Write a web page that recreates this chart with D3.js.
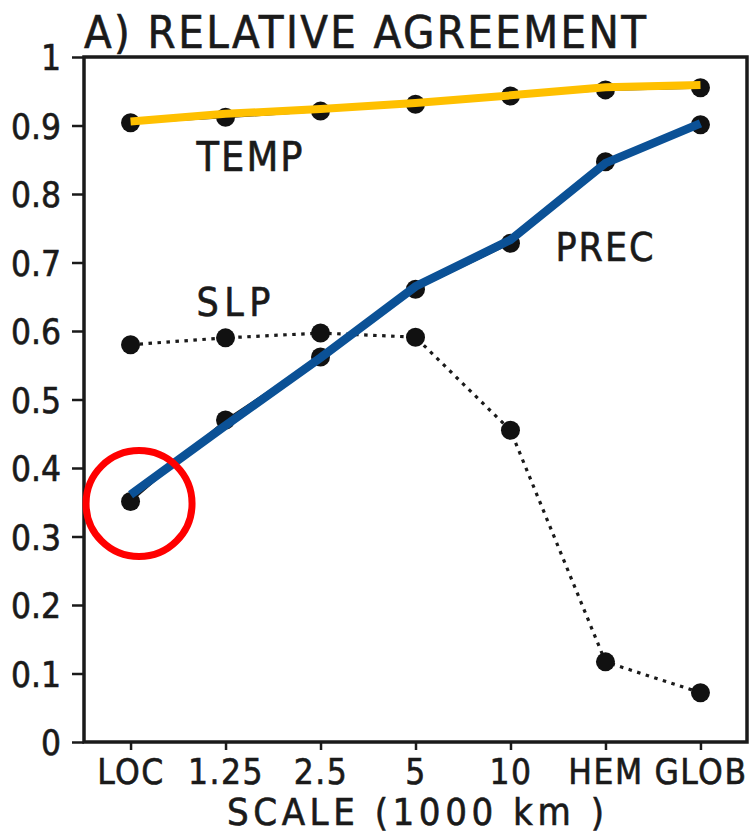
<!DOCTYPE html>
<html>
<head>
<meta charset="utf-8">
<script src="https://cdn.jsdelivr.net/npm/d3@7"></script>
<style>
  body { margin: 0; background: #fff; }
  svg { display: block; }
  text { font-family: "DejaVu Sans Condensed", "DejaVu Sans", sans-serif; font-stretch: condensed; fill: #1a1a1a; stroke: #1a1a1a; stroke-width: 0.6px; }
</style>
</head>
<body>
<div id="main"></div>
<script>
const scales = ["LOC", "1.25", "2.5", "5", "10", "HEM", "GLOB"];
const tempValues = [0.904, 0.912, 0.921, 0.931, 0.943, 0.952, 0.955];
const precValues = [0.351, 0.470, 0.562, 0.661, 0.728, 0.847, 0.901];
const slpValues = [0.580, 0.590, 0.597, 0.591, 0.455, 0.117, 0.072];
// hand drawn overlay lines
const tempOverlay = [0.906, 0.917, 0.924, 0.933, 0.944, 0.956, 0.959];
const precOverlay = [0.361, 0.462, 0.561, 0.665, 0.733, 0.845, 0.903];
const yTicks = [0, 0.1, 0.2, 0.3, 0.4, 0.5, 0.6, 0.7, 0.8, 0.9, 1];
const yTickLabels = ["0", "0.1", "0.2", "0.3", "0.4", "0.5", "0.6", "0.7", "0.8", "0.9", "1"];

const width = 752;
const height = 835;
const margin = {top: 57, right: 5, bottom: 93, left: 84};

const svg = d3.select("#main")
    .append("svg")
    .attr("width", width)
    .attr("height", height);

const x = d3.scalePoint()
    .domain(scales)
    .range([margin.left, width - margin.right])
    .padding(0.49);

const y = d3.scaleLinear()
    .domain([0, 1])
    .range([height - margin.bottom, margin.top]);

// axes
const yAxis = svg.append("g")
    .attr("transform", "translate(" + margin.left + ",0)")
    .call(d3.axisLeft(y)
        .tickValues(yTicks)
        .tickSize(12)
        .tickPadding(11)
        .tickFormat((d, i) => yTickLabels[i]));

const xAxis = svg.append("g")
    .attr("transform", "translate(0," + (height - margin.bottom) + ")")
    .call(d3.axisBottom(x)
        .tickSize(8)
        .tickPadding(6));

[yAxis, xAxis].forEach(g => {
    g.select(".domain").remove();
    g.selectAll(".tick line").attr("stroke", "#1a1a1a").attr("stroke-width", 2.5);
    g.selectAll(".tick text")
        .style("font-size", "35px")
        .attr("fill", "#1a1a1a");
});
xAxis.selectAll(".tick text").attr("dy", "0.8em").style("letter-spacing", "1.5px");
yAxis.selectAll(".tick text").attr("dy", "0.36em");

svg.append("rect")
    .attr("x", margin.left)
    .attr("y", margin.top)
    .attr("width", width - margin.right - margin.left)
    .attr("height", height - margin.bottom - margin.top)
    .attr("fill", "none")
    .attr("stroke", "#1a1a1a")
    .attr("stroke-width", 3.5);

// title and axis label
svg.append("text")
    .attr("x", 84)
    .attr("y", 48)
    .attr("textLength", 562)
    .attr("lengthAdjust", "spacing")
    .style("font-size", "45px")
    .text("A) RELATIVE AGREEMENT");

svg.append("text")
    .attr("x", 227)
    .attr("y", 825)
    .attr("textLength", 377)
    .attr("lengthAdjust", "spacing")
    .style("font-size", "38px")
    .text("SCALE (1000 km )");

const line = d3.line()
    .x((d, i) => x(scales[i]))
    .y(d => y(d));

// original thin lines
svg.append("path")
    .datum(slpValues)
    .attr("d", line)
    .attr("fill", "none")
    .attr("stroke", "#1a1a1a")
    .attr("stroke-width", 3.2)
    .attr("stroke-dasharray", "3.5,5.5");

[tempValues, precValues].forEach(vals => {
    svg.append("path")
        .datum(vals)
        .attr("d", line)
        .attr("fill", "none")
        .attr("stroke", "#1a1a1a")
        .attr("stroke-width", 2);
});

[slpValues, tempValues, precValues].forEach(vals => {
    svg.append("g")
        .selectAll("circle")
        .data(vals)
        .join("circle")
        .attr("cx", (d, i) => x(scales[i]))
        .attr("cy", d => y(d))
        .attr("r", 9.5)
        .attr("fill", "#111");
});

// overlays
svg.append("path")
    .datum(tempOverlay)
    .attr("d", line)
    .attr("fill", "none")
    .attr("stroke", "#FFC000")
    .attr("stroke-width", 8);

svg.append("path")
    .datum(precOverlay)
    .attr("d", line)
    .attr("fill", "none")
    .attr("stroke", "#0B5196")
    .attr("stroke-width", 8.5);

// series labels
svg.append("text")
    .attr("x", x("1.25") - 29)
    .attr("y", y(0.834))
    .attr("textLength", 106)
    .attr("lengthAdjust", "spacing")
    .style("font-size", "41px")
    .text("TEMP");

svg.append("text")
    .attr("x", x("10") + 45)
    .attr("y", y(0.702))
    .attr("textLength", 98)
    .attr("lengthAdjust", "spacing")
    .style("font-size", "39px")
    .text("PREC");

svg.append("text")
    .attr("x", x("1.25") - 29)
    .attr("y", y(0.622))
    .attr("textLength", 74)
    .attr("lengthAdjust", "spacing")
    .style("font-size", "39px")
    .text("SLP");

// highlight ring
svg.append("circle")
    .attr("cx", x("LOC") + 8.5)
    .attr("cy", y(0.348))
    .attr("r", 53)
    .attr("fill", "none")
    .attr("stroke", "#FF0000")
    .attr("stroke-width", 7);
</script>
</body>
</html>
